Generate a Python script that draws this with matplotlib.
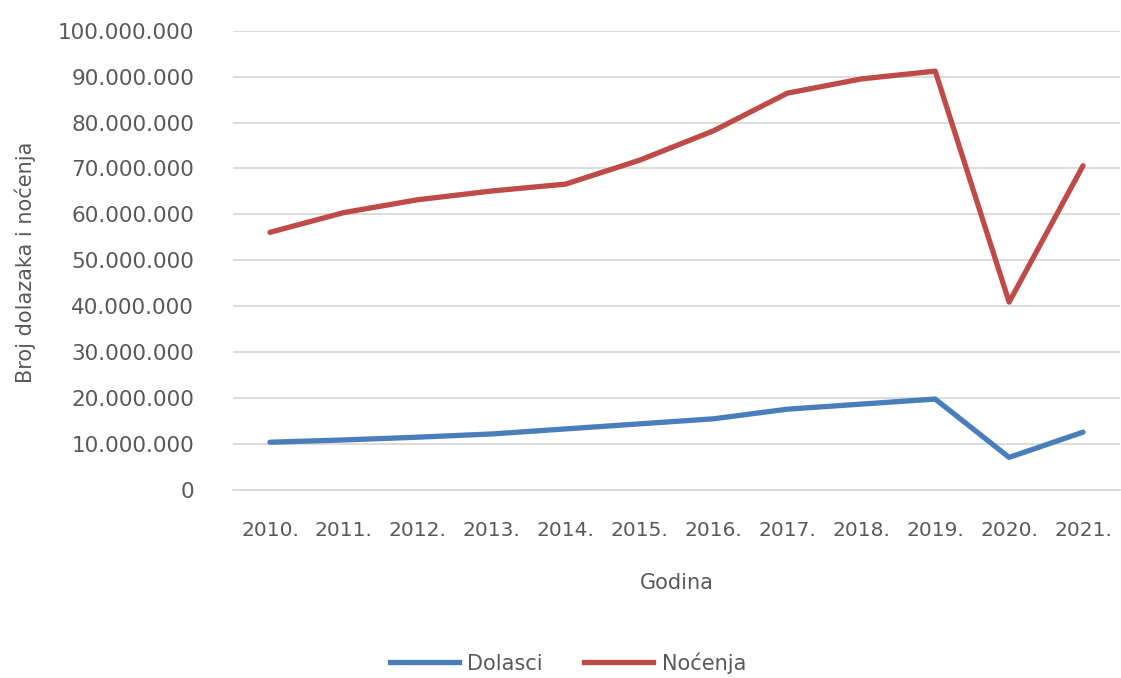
import matplotlib
matplotlib.use("Agg")
import matplotlib.pyplot as plt
from matplotlib.ticker import FuncFormatter, MultipleLocator
from matplotlib.lines import Line2D

years = ["2010.", "2011.", "2012.", "2013.", "2014.", "2015.",
         "2016.", "2017.", "2018.", "2019.", "2020.", "2021."]
dolasci = [10.4e6, 10.9e6, 11.5e6, 12.2e6, 13.3e6, 14.4e6,
           15.5e6, 17.6e6, 18.7e6, 19.8e6, 7.1e6, 12.6e6]
nocenja = [56.1e6, 60.4e6, 63.2e6, 65.1e6, 66.6e6, 71.8e6,
           78.2e6, 86.4e6, 89.5e6, 91.2e6, 40.9e6, 70.6e6]

series_names = ["Dolasci", "Noćenja"]
colors = ["#4A7EBB", "#BE4B48"]
txt = "#595959"

plt.rcParams['font.family'] = ['DejaVu Sans']

fig = plt.figure(figsize=(11.21, 6.78), dpi=100)
ax = fig.add_axes([233/1121, 1 - 490/678, (1120-233)/1121, (490-30.7)/678])

x = list(range(len(years)))
ax.plot(x, dolasci, color=colors[0], lw=3.8, solid_capstyle='round', solid_joinstyle='round', zorder=3)
ax.plot(x, nocenja, color=colors[1], lw=3.8, solid_capstyle='round', solid_joinstyle='round', zorder=3)

ax.set_xlim(-0.5, len(years) - 0.5)
ax.set_ylim(0, 100e6)
ax.yaxis.set_major_locator(MultipleLocator(10e6))
ax.yaxis.set_major_formatter(FuncFormatter(lambda v, p: f"{int(round(v)):,}".replace(",", ".")))
ax.set_xticks(x)
ax.set_xticklabels(years)
ax.grid(axis='y', color='#D9D9D9', lw=1.3)
ax.set_axisbelow(True)
for s in ["top", "right", "left"]:
    ax.spines[s].set_visible(False)
ax.spines["bottom"].set_color('#D9D9D9')
ax.spines["bottom"].set_linewidth(1.3)
ax.tick_params(axis='y', length=0, labelsize=15.5, colors=txt, pad=28)
ax.tick_params(axis='x', length=0, labelsize=14.5, colors=txt, pad=22)

ax.set_xlabel("Godina", fontsize=15, color=txt, labelpad=24)
fig.text(25/1121, 1 - 262/678, "Broj dolazaka i noćenja", rotation=90, fontsize=15,
         color=txt, ha='center', va='center')

handles = [Line2D([0], [0], color=c, lw=3.8) for c in colors]
fig.legend(handles, series_names, loc='center', bbox_to_anchor=(568/1121, 1 - 663/678),
           ncol=2, frameon=False, fontsize=15, labelcolor=txt, handlelength=3.3,
           columnspacing=2.0, handletextpad=0.4)

fig.savefig("out.png", dpi=100)
